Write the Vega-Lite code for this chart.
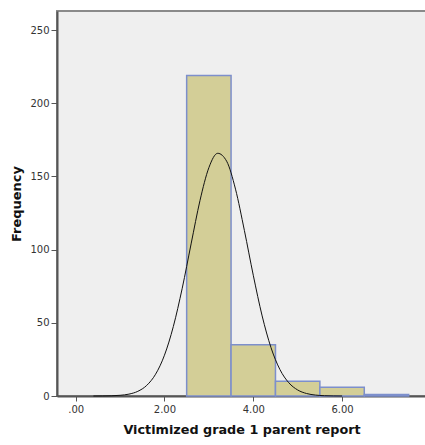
{
  "$schema": "https://vega.github.io/schema/vega-lite/v6.json",
  "width": 369,
  "height": 385,
  "autosize": {"type": "none"},
  "padding": {"left": 57, "top": 11, "right": 0, "bottom": 49},
  "background": "white",
  "config": {
    "view": {"fill": "#efefef", "stroke": "#8a8a8a", "strokeWidth": 2},
    "font": "DejaVu Sans"
  },
  "datasets": {
    "bins": [
      {"start": 2.5, "end": 3.5, "count": 219},
      {"start": 3.5, "end": 4.5, "count": 35},
      {"start": 4.5, "end": 5.5, "count": 10},
      {"start": 5.5, "end": 6.5, "count": 6},
      {"start": 6.5, "end": 7.5, "count": 1}
    ],
    "curve": [
      {"x": 0.4, "density": 0.01},
      {"x": 0.6, "density": 0.05},
      {"x": 0.8, "density": 0.16},
      {"x": 1.0, "density": 0.47},
      {"x": 1.2, "density": 1.28},
      {"x": 1.4, "density": 3.19},
      {"x": 1.6, "density": 7.22},
      {"x": 1.8, "density": 14.87},
      {"x": 2.0, "density": 27.86},
      {"x": 2.2, "density": 47.47},
      {"x": 2.4, "density": 73.6},
      {"x": 2.6, "density": 103.9},
      {"x": 2.8, "density": 133.5},
      {"x": 3.0, "density": 155.96},
      {"x": 3.2, "density": 165.8},
      {"x": 3.4, "density": 160.4},
      {"x": 3.6, "density": 141.3},
      {"x": 3.8, "density": 113.1},
      {"x": 4.0, "density": 82.5},
      {"x": 4.2, "density": 54.7},
      {"x": 4.4, "density": 33.0},
      {"x": 4.6, "density": 18.1},
      {"x": 4.8, "density": 9.06},
      {"x": 5.0, "density": 4.12},
      {"x": 5.2, "density": 1.7},
      {"x": 5.4, "density": 0.64},
      {"x": 5.6, "density": 0.22},
      {"x": 5.8, "density": 0.07},
      {"x": 6.0, "density": 0.02}
    ]
  },
  "layer": [
    {
      "data": {"name": "bins"},
      "mark": {"type": "rect", "fill": "#d3ce97", "stroke": "#7d8fcc", "strokeWidth": 1.5},
      "encoding": {
        "x": {
          "field": "start",
          "type": "quantitative",
          "scale": {"domain": [-0.42, 7.89], "nice": false, "zero": false},
          "axis": {
            "values": [0, 2, 4, 6],
            "labelExpr": "datum.value == 0 ? '.00' : format(datum.value, '.2f')",
            "grid": false,
            "domainColor": "#555555",
            "domainWidth": 2,
            "tickColor": "#555555",
            "tickSize": 5,
            "labelFontSize": 10,
            "labelColor": "#333333",
            "labelPadding": 3,
            "title": "Victimized grade 1 parent report",
            "titleFontSize": 12.8,
            "titleFontWeight": "bold",
            "titleColor": "#111111",
            "titlePadding": 9
          }
        },
        "x2": {"field": "end"},
        "y": {
          "field": "count",
          "type": "quantitative",
          "scale": {"domain": [0, 263], "nice": false},
          "axis": {
            "values": [0, 50, 100, 150, 200, 250],
            "grid": false,
            "domainColor": "#555555",
            "domainWidth": 2,
            "tickColor": "#555555",
            "tickSize": 6,
            "labelFontSize": 10,
            "labelColor": "#333333",
            "labelPadding": 2,
            "title": "Frequency",
            "titleFontSize": 13,
            "titleFontWeight": "bold",
            "titleColor": "#111111",
            "titlePadding": 6
          }
        },
        "y2": {"datum": 0}
      }
    },
    {
      "data": {"name": "curve"},
      "mark": {"type": "line", "color": "#111111", "strokeWidth": 1, "interpolate": "monotone"},
      "encoding": {
        "x": {"field": "x", "type": "quantitative"},
        "y": {"field": "density", "type": "quantitative"}
      }
    }
  ]
}
